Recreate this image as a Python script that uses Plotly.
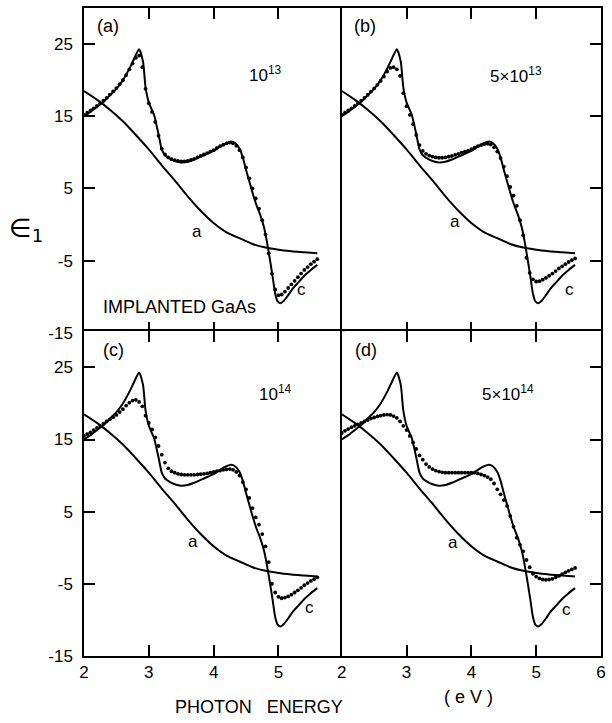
import plotly.graph_objects as go
from plotly.subplots import make_subplots

# ---------------- data ----------------
# crystalline GaAs epsilon_1 (curve "c"), same in all panels
C_E = [2.0, 2.1, 2.2, 2.3, 2.4, 2.5, 2.6, 2.7, 2.77, 2.85, 2.91, 2.95, 3.0, 3.08, 3.15, 3.2, 3.25, 3.31,
       3.4, 3.5, 3.6, 3.7, 3.8, 3.9, 4.0, 4.1, 4.2, 4.27, 4.33, 4.4, 4.45, 4.5, 4.55, 4.6, 4.66, 4.72,
       4.78, 4.84, 4.88, 4.91, 4.95, 4.99, 5.03, 5.08, 5.15, 5.22, 5.3, 5.4, 5.5, 5.6]
C_V = [15.0, 15.6, 16.3, 17.0, 17.9, 18.8, 20.0, 21.6, 22.9, 24.3, 22.6, 19.0, 16.9, 15.2, 12.5, 10.4, 9.6, 9.2,
       8.8, 8.6, 8.7, 9.0, 9.4, 9.8, 10.2, 10.8, 11.3, 11.5, 11.3, 10.5, 9.3, 7.6, 6.0, 4.4, 2.7, 1.3,
       -0.5, -3.3, -5.5, -7.2, -9.6, -10.7, -10.9, -10.6, -9.8, -8.9, -8.1, -7.1, -6.3, -5.6]

# amorphous GaAs epsilon_1 (curve "a"), same in all panels
A_E = [2.0, 2.2, 2.4, 2.6, 2.8, 3.0, 3.2, 3.4, 3.6, 3.8, 4.0, 4.2, 4.4, 4.6, 4.8, 5.0, 5.2, 5.4, 5.6]
A_V = [18.5, 17.3, 15.9, 14.3, 12.4, 10.4, 8.2, 6.1, 3.9, 1.9, 0.2, -1.1, -1.9, -2.7, -3.2, -3.5, -3.7, -3.85, -4.0]

# measured photon energies of the implanted samples (eV)
E_DOTS = [2.00, 2.05, 2.10, 2.15, 2.20, 2.25, 2.30, 2.35, 2.40, 2.45, 2.50, 2.55, 2.60, 2.65, 2.70, 2.75,
          2.80, 2.85, 2.90, 2.95, 3.00, 3.05, 3.10, 3.15, 3.20, 3.25, 3.30, 3.35, 3.40, 3.45, 3.50, 3.55,
          3.60, 3.65, 3.70, 3.75, 3.80, 3.85, 3.90, 3.95, 4.00, 4.05, 4.10, 4.15, 4.20, 4.25, 4.30, 4.35,
          4.40, 4.45, 4.50, 4.55, 4.60, 4.65, 4.70, 4.75, 4.80, 4.85, 4.90, 4.95, 5.00, 5.05, 5.10, 5.15,
          5.20, 5.25, 5.30, 5.35, 5.40, 5.45, 5.50, 5.55, 5.60]

DOTS_A = [15.2, 15.5, 15.8, 16.1, 16.45, 16.8, 17.15, 17.55, 18.0, 18.45, 18.9, 19.45, 20.0, 20.7, 21.5, 22.3,
          23.1, 23.4, 21.8, 18.8, 16.8, 15.6, 14.2, 12.3, 10.5, 9.7, 9.3, 9.05, 8.9, 8.8, 8.75, 8.75,
          8.8, 8.95, 9.1, 9.3, 9.5, 9.7, 9.9, 10.1, 10.3, 10.6, 10.85, 11.05, 11.25, 11.35, 11.25, 10.9,
          10.3, 9.3, 7.9, 6.4, 5.0, 3.6, 2.2, 0.6, -1.4, -4.0, -6.8, -9.0, -9.8, -9.7, -9.3, -8.8,
          -8.3, -7.8, -7.3, -6.8, -6.3, -5.9, -5.5, -5.15, -4.8]

DOTS_B = [15.2, 15.5, 15.8, 16.1, 16.45, 16.8, 17.15, 17.55, 17.95, 18.4, 18.85, 19.35, 19.9, 20.5, 21.2, 21.7,
          21.8, 21.5, 20.6, 18.2, 16.4, 15.2, 13.9, 12.4, 11.0, 10.2, 9.8, 9.55, 9.4, 9.3, 9.25, 9.25,
          9.3, 9.4, 9.5, 9.65, 9.8, 9.95, 10.1, 10.25, 10.45, 10.65, 10.85, 11.0, 11.15, 11.2, 11.1, 10.7,
          10.1, 9.2, 8.0, 6.7, 5.2, 4.0, 2.6, 0.6, -1.5, -4.6, -6.7, -7.6, -7.9, -7.85, -7.65, -7.4,
          -7.1, -6.8, -6.45, -6.1, -5.8, -5.5, -5.2, -4.95, -4.7]

DOTS_C = [15.5, 15.75, 16.0, 16.3, 16.6, 16.9, 17.2, 17.5, 17.8, 18.1, 18.4, 18.8, 19.2, 19.7, 20.1, 20.4,
          20.5, 20.2, 19.6, 18.3, 17.3, 16.4, 15.3, 14.1, 12.9, 11.8, 11.0, 10.6, 10.4, 10.25, 10.15, 10.1,
          10.1, 10.1, 10.1, 10.15, 10.2, 10.25, 10.3, 10.4, 10.5, 10.6, 10.7, 10.8, 10.85, 10.9, 10.8, 10.5,
          10.0, 9.1, 8.1, 6.9, 5.5, 4.2, 3.2, 1.9, 0.2, -2.0, -5.0, -6.2, -6.8, -7.0, -6.9, -6.75,
          -6.5, -6.2, -5.9, -5.55, -5.2, -4.9, -4.6, -4.35, -4.1]

DOTS_D = [15.9, 16.2, 16.45, 16.7, 16.9, 17.1, 17.3, 17.5, 17.7, 17.9, 18.05, 18.2, 18.3, 18.4, 18.45, 18.4,
          18.25, 18.0, 17.5, 16.9, 16.3, 15.5, 14.6, 13.7, 12.8, 12.2, 11.6, 11.2, 10.9, 10.7, 10.55, 10.45,
          10.4, 10.4, 10.4, 10.4, 10.4, 10.4, 10.4, 10.4, 10.4, 10.4, 10.3, 10.15, 10.0, 9.8, 9.5, 8.9,
          8.1, 7.4, 6.6, 5.8, 4.4, 2.9, 1.4, 0.4, -0.5, -1.7, -2.7, -3.6, -4.0, -4.25, -4.4, -4.45,
          -4.4, -4.3, -4.1, -3.9, -3.65, -3.4, -3.2, -3.0, -2.8]

PANEL_DOTS = [DOTS_A, DOTS_B, DOTS_C, DOTS_D]
PANEL_TAGS = ["(a)", "(b)", "(c)", "(d)"]
PANEL_DOSE = ["10<sup>13</sup>", "5×10<sup>13</sup>", "10<sup>14</sup>", "5×10<sup>14</sup>"]
Y_TICKS = [25, 15, 5, -5, -15]
X_TICKS_LEFT = [2, 3, 4, 5]
X_TICKS_RIGHT = [2, 3, 4, 5, 6]

# ---------------- figure ----------------
FONT = "Liberation Sans, DejaVu Sans, Arial, sans-serif"
W, H = 612, 723
ML, MR, MT, MB = 84, 9, 6, 67
LW = 1.5
ex = (LW / 2) / (W - ML - MR)
ey = (LW / 2) / (H - MT - MB)

fig = make_subplots(rows=2, cols=2, horizontal_spacing=0, vertical_spacing=0)

cells = [(1, 1), (1, 2), (2, 1), (2, 2)]
for k, (r, c) in enumerate(cells):
    fig.add_trace(go.Scatter(x=A_E, y=A_V, mode="lines", line=dict(color="black", width=2, shape="spline", smoothing=0.8),
                             showlegend=False, hoverinfo="skip"), row=r, col=c)
    fig.add_trace(go.Scatter(x=C_E, y=C_V, mode="lines", line=dict(color="black", width=2, shape="spline", smoothing=0.6),
                             showlegend=False, hoverinfo="skip"), row=r, col=c)
    fig.add_trace(go.Scatter(x=E_DOTS, y=PANEL_DOTS[k], mode="markers", marker=dict(color="black", size=3.8),
                             showlegend=False), row=r, col=c)

axis_common = dict(showgrid=False, zeroline=False, showline=True, linecolor="black", linewidth=LW,
                   ticks="inside", ticklen=11, tickwidth=1.5, tickcolor="black",
                   tickfont=dict(family=FONT, size=17, color="black"))

for k, (r, c) in enumerate(cells):
    xt = X_TICKS_LEFT if c == 1 else X_TICKS_RIGHT
    xdom = [0, 0.5 + ex] if c == 1 else [0.5 - ex, 1]
    ydom = [0.5 - ey, 1] if r == 1 else [0, 0.5 + ey]
    fig.update_xaxes(range=[2, 6], tickvals=xt, mirror="ticks", showticklabels=(r == 2), domain=xdom,
                     row=r, col=c, **axis_common)
    if c == 1:
        fig.update_yaxes(range=[-15, 30], tickvals=Y_TICKS, ticktext=[str(v) for v in Y_TICKS], domain=ydom,
                         mirror=True, showticklabels=True, ticklabelstandoff=6, row=r, col=c, **axis_common)
    else:
        fig.update_yaxes(range=[-15, 30], tickvals=Y_TICKS, side="right", mirror=True, domain=ydom,
                         showticklabels=False, row=r, col=c, **axis_common)

# panel annotations (data coordinates of each panel)
axrefs = [("x", "y"), ("x2", "y2"), ("x3", "y3"), ("x4", "y4")]
tag_pos = [(2.37, 27.5), (2.36, 27.5), (2.46, 27.4), (2.38, 27.4)]
dose_pos = [(4.8, 20.8), (4.69, 20.7), (4.96, 21.5), (4.57, 21.5)]
a_pos = [(3.74, -1.0), (3.75, 0.4), (3.68, 0.8), (3.71, 0.7)]
c_pos = [(5.36, -9.0), (5.52, -9.0), (5.48, -8.3), (5.46, -8.6)]
for k, (xr, yr) in enumerate(axrefs):
    for txt, (px, py), sz in [(PANEL_TAGS[k], tag_pos[k], 18), (PANEL_DOSE[k], dose_pos[k], 17),
                              ("a", a_pos[k], 17), ("c", c_pos[k], 17)]:
        fig.add_annotation(x=px, y=py, xref=xr, yref=yr, text=txt, showarrow=False,
                           xanchor="center", yanchor="middle",
                           font=dict(family=FONT, size=sz, color="black"))

fig.add_annotation(x=3.48, y=-11.5, xref="x", yref="y", text="IMPLANTED GaAs", showarrow=False,
                   xanchor="center", yanchor="middle", font=dict(family=FONT, size=18, color="black"))

fig.add_annotation(x=(26 - ML) / (W - ML - MR), y=1 - (228 - MT) / (H - MT - MB), xref="paper", yref="paper",
                   text="∈<sub>1</sub>", showarrow=False, xanchor="center", yanchor="middle",
                   font=dict(family="DejaVu Sans", size=26, color="black"))
fig.add_annotation(x=(260 - ML) / (W - ML - MR), y=1 - (707 - MT) / (H - MT - MB), xref="paper", yref="paper",
                   text="PHOTON&nbsp;&nbsp;&nbsp;ENERGY", showarrow=False, xanchor="center", yanchor="middle",
                   font=dict(family=FONT, size=18, color="black"))
fig.add_annotation(x=(470 - ML) / (W - ML - MR), y=1 - (697 - MT) / (H - MT - MB), xref="paper", yref="paper",
                   text="( e V )", showarrow=False, xanchor="center", yanchor="middle",
                   font=dict(family=FONT, size=18, color="black"))

fig.update_layout(width=W, height=H, margin=dict(l=ML, r=MR, t=MT, b=MB),
                  paper_bgcolor="white", plot_bgcolor="white", showlegend=False)

fig.write_html("out.html")
